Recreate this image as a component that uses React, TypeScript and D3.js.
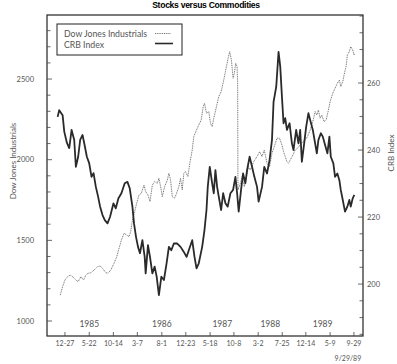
import React from 'react';
import * as d3 from 'd3';

// CRB Index (right axis) — decimal year, value
const crbT = [1984.866,1984.892,1984.948,1984.975,1985.019,1985.057,1985.096,1985.139,1985.166,1985.204,1985.237,1985.276,1985.303,1985.347,1985.385,1985.424,1985.457,1985.495,1985.532,1985.565,1985.605,1985.642,1985.687,1985.729,1985.785,1985.823,1985.867,1985.916,1985.970,1986.015,1986.052,1986.097,1986.123,1986.156,1986.189,1986.221,1986.261,1986.299,1986.315,1986.353,1986.386,1986.425,1986.463,1986.496,1986.533,1986.573,1986.615,1986.659,1986.697,1986.737,1986.779,1986.835,1986.889,1986.943,1986.988,1987.025,1987.081,1987.119,1987.152,1987.189,1987.245,1987.283,1987.316,1987.337,1987.370,1987.409,1987.436,1987.463,1987.491,1987.518,1987.557,1987.590,1987.628,1987.665,1987.710,1987.754,1987.792,1987.820,1987.846,1987.885,1987.918,1987.956,1987.984,1988.026,1988.066,1988.104,1988.148,1988.174,1988.230,1988.267,1988.312,1988.354,1988.394,1988.420,1988.464,1988.502,1988.530,1988.558,1988.584,1988.612,1988.640,1988.683,1988.722,1988.748,1988.792,1988.830,1988.858,1988.886,1988.924,1988.957,1988.994,1989.022,1989.066,1989.104,1989.132,1989.158,1989.198,1989.230,1989.268,1989.306,1989.339,1989.362,1989.404,1989.432,1989.470,1989.503,1989.526,1989.559,1989.596,1989.634,1989.667,1989.690,1989.723,1989.749];
const crbV = [249.9,251.9,250.4,245.5,242.1,240.6,246.0,243.0,235.0,238.0,243.0,244.5,242.1,238.0,236.1,232.0,233.1,229.0,226.1,223.1,220.6,219.1,218.1,220.1,224.1,222.6,225.6,227.1,230.1,230.5,228.6,223.1,218.1,214.1,211.1,209.2,213.1,208.1,203.2,211.6,208.1,203.2,205.2,202.2,196.7,202.2,201.2,206.2,211.1,210.1,212.1,212.1,211.1,209.6,208.1,210.1,213.1,208.1,204.7,206.2,211.1,216.1,222.1,229.0,235.0,230.1,227.1,234.0,229.0,226.1,222.1,227.1,224.1,223.1,227.1,228.1,232.0,227.1,221.6,228.1,233.0,230.1,234.0,238.0,235.0,232.0,229.0,224.6,229.0,235.0,233.0,237.0,243.0,254.4,258.9,269.3,264.9,255.9,248.0,249.5,246.0,248.0,242.0,240.0,246.0,242.0,246.0,236.5,242.0,247.0,251.0,249.0,246.0,242.0,239.0,243.0,245.0,244.0,241.5,239.0,244.0,238.0,236.0,232.0,233.0,231.0,228.1,225.1,221.6,223.1,225.1,223.1,225.6,226.6];

// Dow Jones Industrials (left axis) — decimal year, value
const dowT = [1984.909,1984.948,1984.986,1985.030,1985.073,1985.112,1985.166,1985.204,1985.249,1985.293,1985.331,1985.368,1985.413,1985.467,1985.523,1985.565,1985.605,1985.659,1985.696,1985.741,1985.795,1985.839,1985.877,1985.916,1985.959,1986.003,1986.041,1986.069,1986.097,1986.134,1986.167,1986.205,1986.244,1986.287,1986.315,1986.353,1986.386,1986.425,1986.463,1986.507,1986.533,1986.561,1986.589,1986.627,1986.671,1986.697,1986.725,1986.753,1986.791,1986.824,1986.861,1986.889,1986.917,1986.943,1986.971,1987.009,1987.042,1987.081,1987.107,1987.152,1987.189,1987.229,1987.262,1987.283,1987.316,1987.354,1987.381,1987.409,1987.436,1987.480,1987.518,1987.557,1987.600,1987.644,1987.672,1987.698,1987.726,1987.754,1987.775,1987.796,1987.819,1987.829,1987.834,1987.874,1987.902,1987.940,1987.972,1988.010,1988.038,1988.092,1988.148,1988.190,1988.230,1988.267,1988.312,1988.354,1988.394,1988.432,1988.476,1988.518,1988.558,1988.584,1988.612,1988.640,1988.666,1988.694,1988.738,1988.776,1988.814,1988.858,1988.902,1988.940,1988.978,1989.022,1989.066,1989.104,1989.132,1989.158,1989.186,1989.214,1989.252,1989.285,1989.323,1989.350,1989.395,1989.432,1989.470,1989.503,1989.526,1989.559,1989.580,1989.613,1989.635,1989.667,1989.690,1989.723,1989.744,1989.761];
const dowV = [1161,1213,1254,1275,1285,1275,1254,1244,1275,1254,1285,1296,1299,1316,1337,1341,1327,1299,1296,1316,1358,1399,1451,1502,1544,1533,1523,1554,1626,1678,1730,1781,1792,1843,1802,1781,1740,1843,1864,1854,1885,1833,1771,1833,1874,1916,1874,1771,1761,1792,1833,1885,1812,1916,1926,1895,1978,2060,2143,2184,2215,2246,2329,2350,2288,2298,2226,2205,2257,2329,2391,2422,2494,2577,2629,2670,2618,2505,2536,2598,2577,2474,1812,1854,1895,1833,1895,1957,1936,1988,2019,2050,2019,2060,1978,1957,2040,2081,2133,2133,2091,2050,2019,1988,1978,1998,2029,2060,2071,2091,2112,2122,2143,2184,2236,2298,2277,2308,2257,2277,2236,2246,2308,2360,2412,2443,2474,2494,2453,2484,2525,2577,2649,2670,2701,2680,2649,2660];

const dateTicks = ['1984-12-27','1985-05-22','1985-10-14','1986-03-07','1986-08-01','1986-12-23','1987-05-18','1987-10-08','1988-03-02','1988-07-25','1988-12-14','1989-05-09','1989-09-29'];
const dateTickLabels = ['12-27','5-22','10-14','3-7','8-1','12-23','5-18','10-8','3-2','7-25','12-14','5-9','9-29'];
const yearLabels = ['1985','1986','1987','1988','1989'];
const yearLabelDates = ['1985-05-22','1986-08-01','1987-07-30','1988-05-14','1989-03-25'];
const dowMajor = [1000, 1500, 2000, 2500];
const crbMajor = [200, 220, 240, 260];

function decYear(s: string): number {
  const d = new Date(s + 'T00:00:00Z');
  const y = d.getUTCFullYear();
  const a = Date.UTC(y, 0, 1);
  const b = Date.UTC(y + 1, 0, 1);
  return y + (d.getTime() - a) / (b - a);
}

const L = 47, R = 363, T = 15, B = 336;
const font = 'Lato, "DejaVu Sans", sans-serif';
const grey = '#555';

export default function App() {
  const x = d3.scaleLinear().domain([1984.691, 1989.892]).range([L, R]);
  const yDow = d3.scaleLinear().domain([907, 2897]).range([B, T]);
  const yCrb = d3.scaleLinear().domain([184.5, 280.3]).range([B, T]);

  const dowLine = d3.line<number>().x((_, i) => x(dowT[i])).y(v => yDow(v));
  const crbLine = d3.line<number>().x((_, i) => x(crbT[i])).y(v => yCrb(v));

  const dowMinor = d3.range(1000, 2900, 100);
  const crbMinor = d3.range(185, 281, 5);

  return (
    <svg width={397} height={364} style={{ position: 'absolute', left: 0, top: 0, background: '#fff' }}>
      <rect x={0} y={0} width={397} height={364} fill="#fff" />
      <text x={206} y={8} textAnchor="middle" fontFamily='"Liberation Sans", Arial, sans-serif' fontWeight="bold" fontSize={8.6} letterSpacing={-0.3} fill="#000">Stocks versus Commodities</text>

      {/* lines */}
      <path d={dowLine(dowV) || ''} fill="none" stroke="#707070" strokeWidth={1} strokeDasharray="1,0.8" />
      <path d={crbLine(crbV) || ''} fill="none" stroke="#2a2a2a" strokeWidth={1.8} strokeLinejoin="round" />

      {/* frame */}
      <rect x={L} y={T} width={R - L} height={B - T} fill="none" stroke="#222" strokeWidth={1.2} />

      {/* left axis ticks */}
      {dowMinor.map(v => (
        <line key={'dl' + v} x1={L} x2={L + (dowMajor.includes(v) ? 5 : 3.5)} y1={yDow(v)} y2={yDow(v)} stroke="#444" strokeWidth={0.8} />
      ))}
      {dowMajor.map(v => (
        <text key={'dt' + v} x={34} y={yDow(v) + 2.7} textAnchor="end" fontFamily={font} fontSize={7.5} fill={grey}>{v}</text>
      ))}
      <text transform={`translate(16,161) rotate(-90)`} textAnchor="middle" fontFamily={font} fontSize={8} fill={grey}>Dow Jones Industrials</text>

      {/* right axis ticks */}
      {crbMinor.map(v => (
        <line key={'cl' + v} x1={R} x2={R - (crbMajor.includes(v) ? 5 : 3.5)} y1={yCrb(v)} y2={yCrb(v)} stroke="#444" strokeWidth={0.8} />
      ))}
      {crbMajor.map(v => (
        <text key={'ct' + v} x={367} y={yCrb(v) + 2.7} textAnchor="start" fontFamily={font} fontSize={7.5} fill={grey}>{v}</text>
      ))}
      <text transform={`translate(394,153) rotate(-90)`} textAnchor="middle" fontFamily={font} fontSize={8} fill={grey}>CRB Index</text>

      {/* bottom axis */}
      {dateTicks.map((d, i) => (
        <g key={'bt' + i}>
          <line x1={x(decYear(d))} x2={x(decYear(d))} y1={B} y2={B - 4} stroke="#444" strokeWidth={0.8} />
          <text x={x(decYear(d))} y={346} textAnchor="middle" fontFamily={font} fontSize={7} fill={grey}>{dateTickLabels[i]}</text>
        </g>
      ))}
      {yearLabels.map((s, i) => (
        <text key={'yl' + i} x={x(decYear(yearLabelDates[i]))} y={327} textAnchor="middle" fontFamily={font} fontSize={8.5} fill={grey}>{s}</text>
      ))}
      <text x={x(decYear('1989-09-29')) - 6} y={360.5} textAnchor="middle" fontFamily={font} fontSize={7} fill={grey}>9/29/89</text>

      {/* legend */}
      <rect x={57} y={24} width={125} height={31} fill="#fff" stroke="#222" strokeWidth={1} />
      <text x={64} y={36.5} fontFamily={font} fontSize={8.7} fill={grey}>Dow Jones Industrials</text>
      <text x={64} y={47.5} fontFamily={font} fontSize={8.7} fill={grey}>CRB Index</text>
      <line x1={155} x2={171} y1={33.5} y2={33.5} stroke="#707070" strokeWidth={1} strokeDasharray="1,0.8" />
      <line x1={155} x2={173} y1={43.5} y2={43.5} stroke="#2a2a2a" strokeWidth={1.6} />
    </svg>
  );
}
